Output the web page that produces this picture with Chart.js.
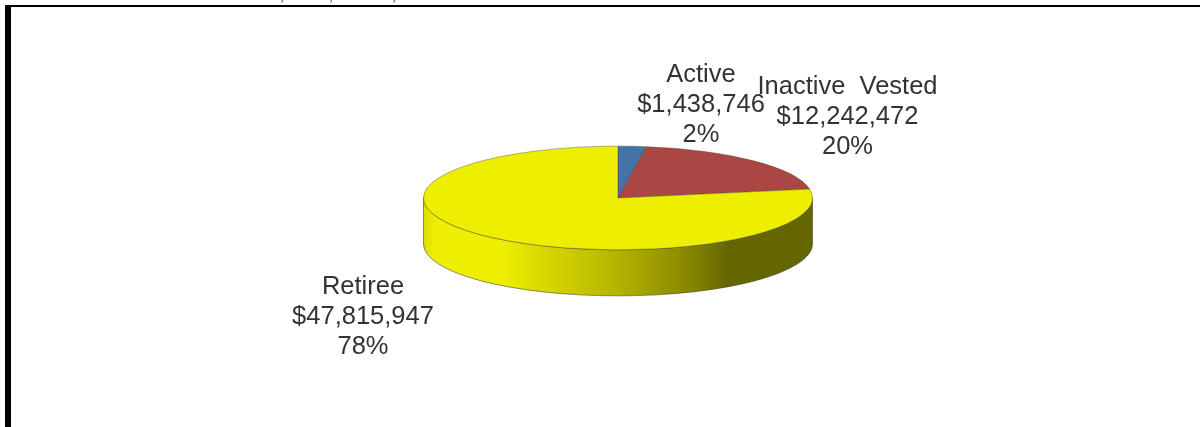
<!DOCTYPE html>
<html>
<head>
<meta charset="utf-8">
<style>
  html, body { margin: 0; padding: 0; background: #fff; overflow: hidden; }
  #wrap { position: relative; width: 1200px; height: 427px; }
  #frame { position: absolute; left: 5px; top: 5px; right: 0; bottom: 0; border-left: 6px solid #000; border-top: 2px solid #000; }
  canvas { position: absolute; left: 0; top: 0; filter: blur(0.45px); }
</style>
<script src="https://cdn.jsdelivr.net/npm/chart.js@4"></script>
</head>
<body>
<div id="wrap">
  <div id="frame"></div>
  <canvas id="pie" width="1200" height="427"></canvas>
</div>
<script>
var categories = ["Active", "Inactive  Vested", "Retiree"];
var amounts = [1438746, 12242472, 47815947];
var amountLabels = ["$1,438,746", "$12,242,472", "$47,815,947"];
var percentLabels = ["2%", "20%", "78%"];
var sliceColors = ["#4572a7", "#aa4643", "#eeee00"];

// where each label block is centred (first line baseline)
var labelX = [701, 847.5, 363];
var labelY = [82, 94, 294];

// tails of the title that is cut off by the top edge of the picture
var clippedTitleX = [282, 331, 394];

var squash = 52 / 195;
var depth = 46;

var pie3d = {
  id: 'pie3d',
  beforeDatasetDraw: function (chart, args) {
    var ctx = chart.ctx;
    var arcs = args.meta.data;
    var cx = arcs[0].x, cy = arcs[0].y, r = arcs[0].outerRadius;

    // side wall: only the front half of the pie shows
    arcs.forEach(function (arc) {
      var from = Math.max(arc.startAngle, 0);
      var to = Math.min(arc.endAngle, Math.PI);
      if (to <= from) return;
      var grad = ctx.createLinearGradient(cx - r, 0, cx + r, 0);
      grad.addColorStop(0, '#dede00');
      grad.addColorStop(0.03, '#eeee00');
      grad.addColorStop(0.205, '#eeee00');
      grad.addColorStop(0.29, '#dcdc00');
      grad.addColorStop(0.46, '#bcbc00');
      grad.addColorStop(0.68, '#888800');
      grad.addColorStop(0.78, '#666600');
      grad.addColorStop(1, '#666600');
      ctx.save();
      ctx.beginPath();
      ctx.ellipse(cx, cy, r, r * squash, 0, from, to);
      ctx.ellipse(cx, cy + depth, r, r * squash, 0, to, from, true);
      ctx.closePath();
      ctx.fillStyle = grad;
      ctx.fill();
      ctx.strokeStyle = 'rgba(60,60,40,0.7)';
      ctx.lineWidth = 0.8;
      ctx.stroke();
      ctx.restore();
    });

    // flatten the library's pie into the top face
    ctx.save();
    ctx.translate(cx, cy);
    ctx.scale(1, squash);
    ctx.translate(-cx, -cy);
  },
  afterDatasetDraw: function (chart) {
    chart.ctx.restore();
  },
  afterDraw: function (chart) {
    var ctx = chart.ctx;
    ctx.save();
    ctx.font = '25.5px "Liberation Sans", Arial, sans-serif';
    ctx.fillStyle = '#333333';
    ctx.textAlign = 'center';
    ctx.textBaseline = 'alphabetic';
    categories.forEach(function (name, i) {
      ctx.fillText(name, labelX[i], labelY[i]);
      ctx.fillText(amountLabels[i], labelX[i], labelY[i] + 30);
      ctx.fillText(percentLabels[i], labelX[i], labelY[i] + 60);
    });
    ctx.font = '20px "Liberation Sans", Arial, sans-serif';
    ctx.fillStyle = '#666666';
    clippedTitleX.forEach(function (x) {
      ctx.fillText(',', x, 0);
    });
    ctx.restore();
  }
};

var ctx = document.getElementById("pie").getContext("2d");
window.myPie = new Chart(ctx, {
  type: 'pie',
  data: {
    labels: categories,
    datasets: [{
      data: amounts,
      backgroundColor: sliceColors,
      borderColor: 'rgba(70,70,40,0.65)',
      borderWidth: 1
    }]
  },
  options: {
    responsive: false,
    animation: false,
    // puts the 390px circle centred on 618,198
    layout: { padding: { left: 423, right: 387, top: 3, bottom: 34 } },
    plugins: {
      legend: { display: false },
      title: { display: false }
    }
  },
  plugins: [pie3d]
});
</script>
</body>
</html>
